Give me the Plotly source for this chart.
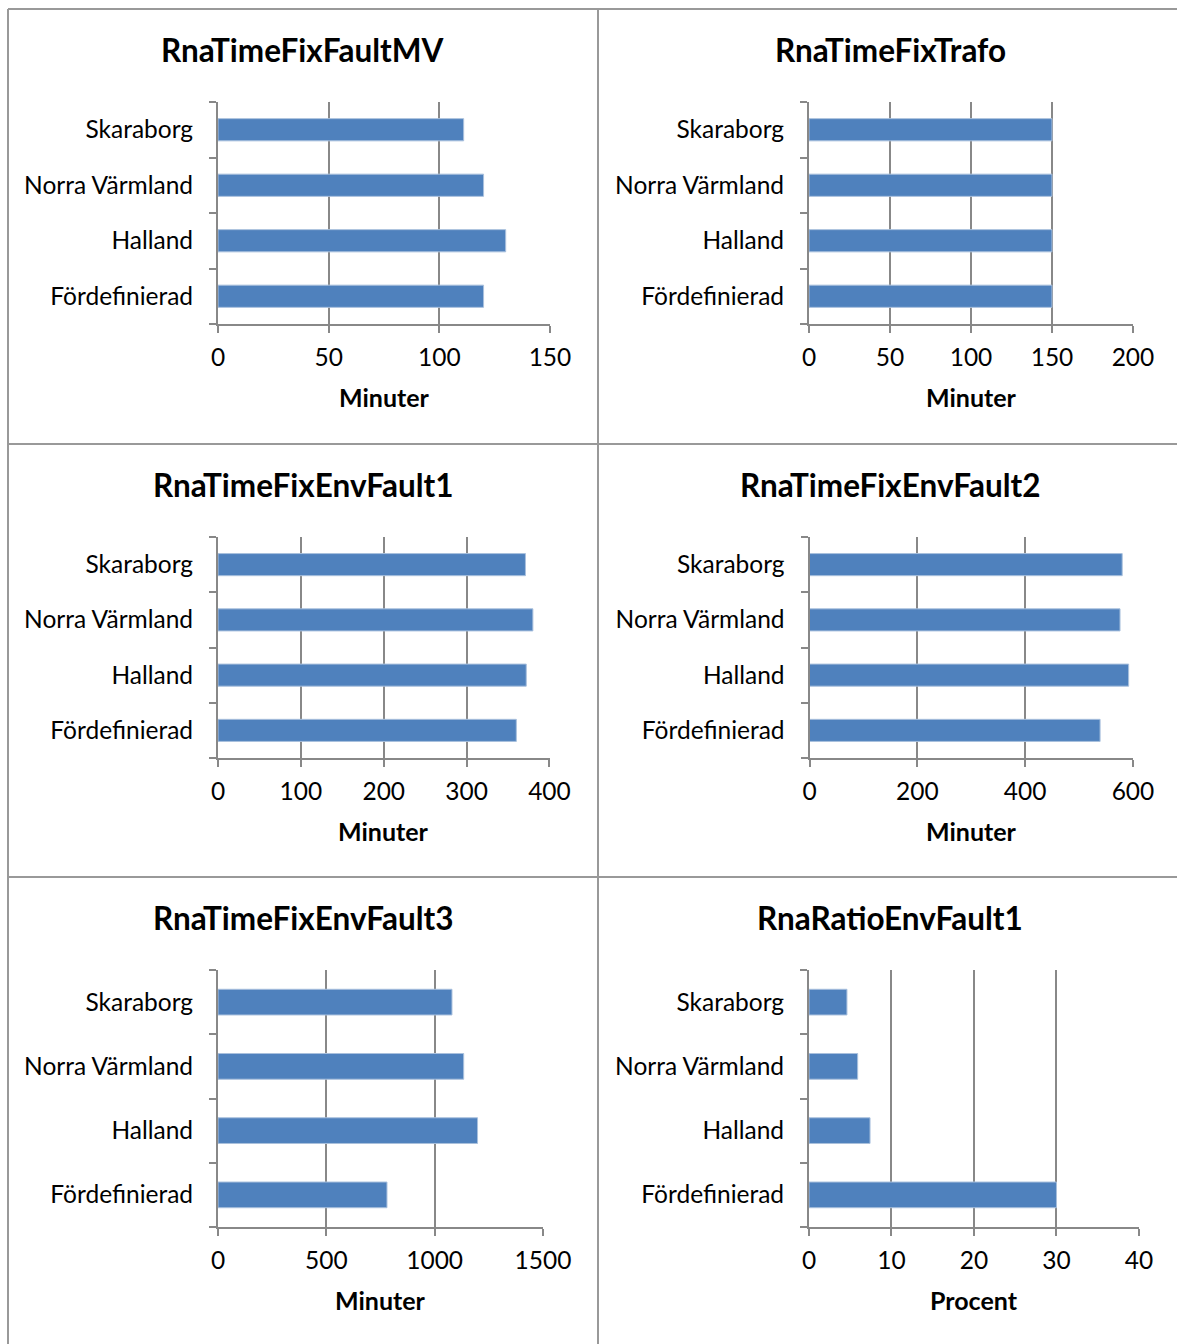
import plotly.graph_objects as go

# ---------------- data ----------------
categories = ["Fördefinierad", "Halland", "Norra Värmland", "Skaraborg"]

chart_titles = ["RnaTimeFixFaultMV", "RnaTimeFixTrafo",
                "RnaTimeFixEnvFault1", "RnaTimeFixEnvFault2",
                "RnaTimeFixEnvFault3", "RnaRatioEnvFault1"]

fault_mv = [120, 130, 120, 111]
trafo = [150, 150, 150, 150]
env_fault1 = [360, 372, 380, 371]
env_fault2 = [539, 592, 576, 580]
env_fault3 = [780, 1198, 1134, 1080]
ratio_env_fault1 = [30.0, 7.4, 5.9, 4.6]

x_titles = ["Minuter", "Minuter", "Minuter", "Minuter", "Minuter", "Procent"]
x_max = [150, 200, 400, 600, 1500, 40]
x_dtick = [50, 50, 100, 200, 500, 10]

series = [fault_mv, trafo, env_fault1, env_fault2, env_fault3, ratio_env_fault1]

# ---------------- layout geometry (pixels) ----------------
W, H = 1177, 1344
# plot areas: (x0, x1, y_top, y_bottom)
plot_px = [
    (218, 550, 102, 324),
    (809, 1133, 102, 324),
    (218, 549.5, 537, 758),
    (809.5, 1133, 537, 758),
    (218, 543, 970, 1227),
    (809, 1139, 970, 1227),
]
panel_title_px = [(303, 50), (890, 50), (303, 485), (890, 485), (303, 918), (890, 918)]
axis_title_dy = 73

BAR = "#4F81BD"
GRID = "#888888"
FONT = "Lato"

fig = go.Figure()
annotations = []

for i in range(6):
    n = i + 1
    xa = "x" if n == 1 else f"x{n}"
    ya = "y" if n == 1 else f"y{n}"
    fig.add_trace(go.Bar(
        x=series[i], y=categories, orientation="h",
        marker=dict(color=BAR, line=dict(color="#A9C0DD", width=1)),
        xaxis=xa, yaxis=ya, showlegend=False, hoverinfo="x+y",
    ))
    x0, x1, yt, yb = plot_px[i]
    xkey = "xaxis" if n == 1 else f"xaxis{n}"
    ykey = "yaxis" if n == 1 else f"yaxis{n}"
    fig.layout[xkey] = dict(
        domain=[x0 / W, x1 / W], anchor=ya, automargin=False,
        range=[0, x_max[i] * 1.0001], dtick=x_dtick[i], tick0=0,
        showgrid=True, gridcolor=GRID, gridwidth=2,
        zeroline=False, showline=True, linecolor=GRID, linewidth=2,
        ticks="outside", ticklen=7, tickcolor=GRID, tickwidth=2,
        ticklabelstandoff=4,
        tickfont=dict(family=FONT, size=24.5, color="#000"),
        fixedrange=True,
    )
    fig.layout[ykey] = dict(
        domain=[1 - yb / H, 1 - yt / H], anchor=xa, automargin=False,
        type="category", categoryorder="array", categoryarray=categories,
        range=[-0.5, 3.5],
        showgrid=False, zeroline=False, showline=True, linecolor=GRID, linewidth=2,
        ticks="outside", tickson="boundaries", ticklen=7, tickcolor=GRID, tickwidth=2,
        ticklabelstandoff=18,
        tickfont=dict(family=FONT, size=24.5, color="#000"),
        fixedrange=True,
    )
    tx, ty = panel_title_px[i]
    annotations.append(dict(
        text=f"<b>{chart_titles[i]}</b>", x=tx / W, y=1 - ty / H,
        xref="paper", yref="paper", xanchor="center", yanchor="middle",
        showarrow=False, font=dict(family=FONT, size=31.5, color="#000"),
    ))
    annotations.append(dict(
        text=f"<b>{x_titles[i]}</b>", x=(x0 + x1) / 2 / W, y=1 - (yb + axis_title_dy) / H,
        xref="paper", yref="paper", xanchor="center", yanchor="middle",
        showarrow=False, font=dict(family=FONT, size=25, color="#000"),
    ))

border = "#999999"
shapes = []
for xv in (8, 598):
    shapes.append(dict(type="line", xref="paper", yref="paper",
                       x0=xv / W, x1=xv / W, y0=0, y1=1 - 9 / H,
                       line=dict(color=border, width=2)))
for yv in (9, 444, 877):
    shapes.append(dict(type="line", xref="paper", yref="paper",
                       x0=8 / W, x1=1, y0=1 - yv / H, y1=1 - yv / H,
                       line=dict(color=border, width=2)))

fig.update_layout(
    width=W, height=H, autosize=False, margin=dict(l=0, r=0, t=0, b=0, pad=0),
    paper_bgcolor="white", plot_bgcolor="white",
    bargap=0.6, annotations=annotations, shapes=shapes,
    font=dict(family=FONT, color="#000"),
)

fig.write_html("out.html", config={"displayModeBar": False, "responsive": False})
